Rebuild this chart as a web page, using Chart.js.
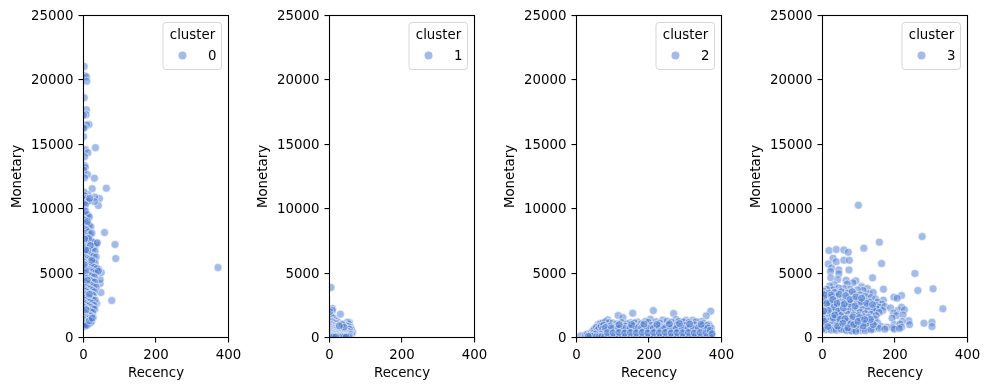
<!DOCTYPE html>
<html>
<head>
<meta charset="utf-8">
<script src="https://cdn.jsdelivr.net/npm/chart.js@4/dist/chart.umd.min.js"></script>
<style>
    body { margin: 0; background: #fff; }
    canvas { position: absolute; top: 0; }
</style>
</head>
<body>
<script>
const xTicks = [0, 200, 400];
const yTicks = [0, 5000, 10000, 15000, 20000, 25000];
const xLabel = 'Recency';
const yLabel = 'Monetary';
const legendTitle = 'cluster';
const clusters = [0, 1, 2, 3];

// [recency, monetary]
const cluster0 = [
    [2,21050],[3,20330],[8,20250],[9,19900],[2,18620],[8,17690],[7,17300],[0,17250],[15,16530],[8,16500],[3,16300],[0,16250],
    [0,15600],[33,14740],[5,14590],[12,14350],[3,14040],[3,13350],[5,13200],[1,13000],[11,12650],[3,12400],[30,12370],[24,11550],
    [63,11590],[44,10790],[31,10900],[41,10240],[30,10550],[12,11100],[58,8150],[87,7220],[89,6130],[371,5430],[78,2870],[48,3490],
    [46,4190],[46,4500],[49,5040],[42,5280],[36,7300],[34,7200],[36,2640],[1,11300],[4,11000],[7,10800],[2,10700],[9,10500],
    [14,10600],[17,10800],[0,10400],[5,10300],[1,9900],[3,9600],[8,9500],[12,9500],[16,9350],[0,9200],[4,9100],[6,8900],
    [11,8800],[15,8700],[20,8600],[2,8500],[7,8400],[9,8300],[13,8200],[1,8100],[18,8000],[23,8100],[4,7900],[0,7800],
    [10,7700],[16,7600],[21,7500],[26,7400],[3,7400],[7,7300],[12,7250],[30,7100],[38,7350],[1,7100],[5,7000],[9,6950],
    [14,6900],[19,6850],[25,6800],[32,6700],[0,6700],[4,6600],[8,6550],[13,6500],[17,6400],[22,6350],[28,6300],[35,6250],
    [2,6300],[6,6200],[11,6100],[16,6050],[20,5950],[26,5900],[32,5800],[0,5900],[4,5800],[9,5700],[14,5650],[18,5600],
    [24,5550],[29,5450],[37,5350],[1,5500],[6,5400],[11,5300],[16,5250],[21,5150],[27,5100],[33,5000],[41,5150],[3,5100],
    [8,5000],[13,4900],[18,4850],[23,4750],[30,4700],[0,4800],[5,4700],[10,4600],[15,4500],[20,4450],[26,4350],[31,4300],
    [2,4400],[7,4300],[12,4200],[17,4150],[22,4050],[28,3950],[35,3900],[0,4100],[4,4000],[9,3900],[14,3800],[19,3750],
    [24,3650],[30,3550],[3,3700],[8,3600],[13,3500],[18,3400],[23,3350],[27,3250],[1,3400],[5,3300],[10,3200],[15,3150],
    [20,3050],[25,2950],[32,2900],[0,3100],[4,3000],[8,2900],[13,2800],[18,2750],[24,2650],[29,2500],[2,2700],[6,2600],
    [11,2500],[16,2450],[21,2350],[26,2250],[31,2200],[0,2400],[4,2300],[9,2200],[14,2100],[19,2050],[25,1950],[2,2000],
    [7,1900],[12,1800],[17,1750],[22,1650],[27,1550],[1,1700],[5,1600],[10,1500],[15,1450],[20,1350],[0,1400],[4,1300],
    [8,1200],[13,1150],[18,1100],[22,1250],[2,1100],[6,1000],[1,850],[4,900],[10,950],[16,1300],[24,1500],[6,5200],
    [14,7700],[19,7150],[23,6000],[11,9000],[6,9800],[10,4450],[16,3350],[7,2150],[12,6750],[6,6800],[2,5650],[3,7650]
];
const cluster1 = [
    [4,3880],[30,1810],[8,2250],[8,2100],[55,1160],[64,420],[1,2000],[3,1750],[6,1600],[11,1500],[2,1400],[15,1350],
    [20,1250],[25,1150],[49,1180],[53,1050],[58,800],[60,620],[61,300],[57,500],[0,1300],[5,1250],[9,1200],[13,1150],
    [18,1100],[23,1050],[28,1000],[33,950],[38,1000],[43,950],[48,900],[52,850],[1,1050],[4,1000],[8,950],[12,900],
    [16,850],[21,820],[26,800],[31,780],[36,750],[41,720],[46,700],[51,680],[55,650],[0,850],[3,800],[7,760],[11,720],
    [15,700],[19,660],[24,640],[29,600],[34,580],[39,550],[44,520],[49,500],[54,450],[1,650],[5,620],[9,580],[13,540],
    [17,520],[22,480],[27,460],[32,430],[37,400],[42,380],[47,350],[52,300],[56,260],[0,500],[4,460],[8,420],[12,400],
    [16,370],[20,340],[25,320],[30,290],[35,260],[40,230],[45,200],[50,170],[55,120],[2,350],[6,310],[10,280],[14,250],
    [18,220],[23,190],[28,160],[33,130],[38,100],[43,90],[48,60],[53,50],[0,220],[4,180],[8,150],[12,120],[16,100],
    [21,80],[26,60],[31,40],[36,60],[41,30],[46,30],[3,70],[7,50],[11,40],[17,30],[35,1000],[40,800],[27,900]
];
const cluster2 = [
    [212,2090],[370,2040],[155,1890],[115,1710],[128,1550],[268,1860],[358,1680],[86,1370],[12,130],[204,1420],[365,1000],[345,1250],
    [320,1340],[302,1330],[275,1400],[238,1350],[190,1250],[168,1200],[150,1150],[60,1000],[66,1080],[72,1120],[80,1230],[90,1150],
    [100,1130],[110,1050],[125,1160],[140,1080],[160,1130],[178,1060],[198,1180],[220,1230],[230,1120],[250,1270],[262,1200],[282,1250],
    [295,1210],[310,1170],[330,1230],[350,1100],[368,850],[372,700],[362,620],[356,800],[25,200],[30,280],[36,240],[42,420],
    [46,520],[50,680],[55,800],[48,350],[58,550],[62,720],[68,880],[75,960],[84,850],[94,900],[104,780],[114,920],
    [122,800],[135,880],[146,780],[158,900],[170,820],[184,920],[194,800],[208,950],[218,840],[228,920],[242,820],[254,960],
    [266,850],[278,980],[288,860],[300,940],[314,850],[326,980],[338,860],[348,920],[360,950],[65,420],[72,650],[78,500],
    [86,620],[92,420],[98,600],[106,480],[112,650],[120,420],[128,600],[136,460],[144,620],[152,430],[160,610],[168,480],
    [176,630],[182,430],[190,600],[198,470],[206,640],[214,440],[222,600],[232,480],[240,630],[248,430],[256,600],[264,470],
    [272,640],[280,440],[290,610],[298,470],[306,630],[316,430],[324,600],[332,470],[340,630],[346,440],[354,600],[364,470],
    [370,380],[373,180],[366,90],[358,250],[350,140],[342,300],[334,120],[326,260],[318,150],[310,300],[302,110],[294,270],
    [286,140],[276,310],[268,120],[258,260],[250,150],[242,300],[234,110],[226,270],[218,140],[210,310],[202,120],[194,260],
    [186,150],[178,300],[170,110],[162,270],[154,140],[146,310],[138,120],[130,260],[122,150],[114,300],[106,110],[98,270],
    [90,140],[82,310],[74,120],[66,260],[58,150],[52,250],[44,110],[38,120],[32,90],[55,70],[63,60],[70,90],
    [78,70],[87,60],[95,80],[103,50],[111,70],[119,60],[127,90],[135,50],[143,70],[151,60],[159,80],[167,50],
    [175,70],[183,60],[191,90],[199,50],[207,70],[215,60],[223,80],[231,50],[239,70],[247,60],[255,90],[263,50],
    [271,70],[279,60],[287,80],[295,50],[303,70],[311,60],[319,90],[327,50],[335,70],[343,60],[351,80],[360,50],
    [368,70],[80,760],[96,740],[116,720],[132,700],[148,730],[164,710],[180,740],[196,700],[212,730],[228,710],[244,740],
    [260,700],[276,730],[292,710],[308,740],[322,700],[336,730],[352,710],[362,740],[85,380],[101,360],[117,390],[133,350],
    [149,380],[165,360],[181,390],[197,350],[213,380],[229,360],[245,390],[261,350],[277,380],[293,360],[309,390],[325,350],
    [341,380],[357,360],[369,560],[374,300],[344,1020],[312,1040],[284,1080],[256,1060],[222,1020],[186,1040],[152,1000],[118,1000]
];
const cluster3 = [
    [99,10270],[275,7840],[157,7400],[114,6930],[18,6750],[38,6830],[59,6800],[71,6620],[29,6150],[38,5880],[59,6000],[74,5990],
    [163,5740],[16,5710],[25,5400],[73,5250],[45,5250],[22,5120],[45,4950],[255,4970],[138,4630],[23,4630],[42,4500],[65,4450],
    [92,4400],[168,3750],[263,3650],[305,3780],[218,3260],[197,3130],[206,3050],[332,2230],[168,2900],[280,1110],[302,1190],[302,850],
    [238,1300],[240,1000],[84,4250],[68,4150],[32,4100],[20,4000],[108,3950],[124,3800],[128,3400],[140,3500],[112,3650],[96,3700],
    [76,3750],[58,3800],[44,3850],[28,3700],[12,3750],[3,3600],[0,3400],[8,3400],[18,3450],[34,3500],[52,3550],[70,3450],
    [88,3350],[104,3300],[118,3200],[134,3100],[146,3000],[152,2750],[164,2600],[2,3100],[14,3100],[26,3150],[40,3200],[56,3100],
    [72,3100],[86,3000],[100,2950],[116,2850],[130,2750],[148,2500],[158,2350],[172,2400],[188,2300],[208,2100],[218,2350],[226,2150],
    [0,2850],[10,2850],[22,2800],[36,2850],[48,2750],[62,2800],[78,2750],[94,2650],[108,2550],[122,2450],[138,2300],[150,2200],
    [166,2100],[196,1900],[4,2550],[16,2500],[30,2550],[42,2450],[54,2500],[68,2450],[82,2400],[98,2300],
    [112,2200],[126,2150],[142,2050],[156,1950],[204,1700],[222,1750],[0,2250],[12,2250],[24,2200],[38,2150],
    [50,2200],[64,2100],[76,2150],[90,2050],[104,1950],[118,1850],[134,1800],[148,1700],[192,1500],
    [6,1950],[18,1900],[32,1950],[44,1850],[58,1850],[72,1800],[86,1750],[100,1700],[114,1600],[128,1550],[144,1450],
    [220,1250],[2,1650],[14,1600],[26,1650],[38,1550],[52,1550],[66,1500],[80,1450],[94,1400],
    [108,1350],[122,1300],[136,1200],[152,1150],[198,1000],[214,1050],[8,1350],[20,1300],[34,1300],[46,1250],
    [60,1250],[74,1150],[88,1150],[102,1100],[116,1050],[130,950],[146,900],[162,850],[178,800],[194,750],[218,800],[0,1100],
    [12,1050],[26,1000],[40,1000],[54,950],[68,900],[82,850],[96,800],[110,750],[124,700],[140,650],[156,700],[172,650],
    [198,650],[212,700],[4,800],[18,750],[32,700],[46,750],[60,650],[74,600],[88,600],[104,550],[118,520],[134,600],
    [10,600],[24,580],[38,560],[52,620],[66,540],[80,500],[92,480],[6,3300],[24,3300],[46,3350],[64,3250],[82,3550],
    [6,2050],[20,2650],[32,2350],[44,2050],[58,2300],[74,2600],[90,2450],[106,2750],[122,2650],[138,2550],[30,1500],[50,1700],
    [70,1300],[84,1600],[102,1550],[120,1100],[140,1000],[12,2650],[28,2950],[40,2650],[60,2600],[76,2950],
    [92,3150],[108,3050],[16,2100],[34,1750],[48,1400],[62,1450],[78,1050],[94,950],[112,900],[132,1400],
    [0,1850],[0,1450],[0,650],[3,2050],[5,1250],[15,850],[42,880],[56,1100],[70,750],[86,1000],[98,1250],[116,1400]
];
const clusterPoints = [cluster0, cluster1, cluster2, cluster3];

const canvasLefts = [10, 256, 503, 749];
const plotWidth = 145;
const leftWidth = 73.5;
const rightPad = 20;
const fontFamily = 'DejaVu Sans';
const fontSize = 13.33;

// frame on all four sides, above the points like the spines
const framePlugin = {
    id: 'frame',
    afterDatasetsDraw(chart) {
        const { ctx, chartArea: a } = chart;
        ctx.save();
        ctx.strokeStyle = '#000';
        ctx.lineWidth = 1.1;
        ctx.strokeRect(a.left, a.top, a.right - a.left, a.bottom - a.top);
        ctx.restore();
    }
};

// y tick labels sit 1px lower in the reference
const yLabelShiftPlugin = {
    id: 'yLabelShift',
    beforeDraw(chart) {
        chart.scales.y.getLabelItems(chart.chartArea).forEach(item => {
            item.options.translation[1] += 1;
        });
    }
};

// legend sits inside the axes, top right
const legendBoxPlugin = {
    id: 'legendBox',
    afterDraw(chart, args, opts) {
        const { ctx, chartArea: a } = chart;
        const right = a.right - 7;
        const left = right - 58.5;
        const top = a.top + 7;
        ctx.save();
        ctx.beginPath();
        ctx.roundRect(left, top, 58.5, 47, 3);
        ctx.fillStyle = 'rgba(255,255,255,0.8)';
        ctx.fill();
        ctx.strokeStyle = 'rgba(204,204,204,0.8)';
        ctx.lineWidth = 1;
        ctx.stroke();
        ctx.fillStyle = '#000';
        ctx.font = fontSize + 'px "' + fontFamily + '"';
        ctx.textBaseline = 'middle';
        ctx.textAlign = 'center';
        ctx.fillText(legendTitle, left + 29.5, top + 13);
        ctx.textAlign = 'right';
        ctx.fillText(String(opts.label), right - 5, top + 34);
        ctx.beginPath();
        ctx.arc(left + 19.5, top + 33, 4, 0, Math.PI * 2);
        ctx.fillStyle = 'rgba(72,120,208,0.5)';
        ctx.fill();
        ctx.restore();
    }
};

clusters.forEach((cluster, i) => {
    const canvas = document.createElement('canvas');
    canvas.width = Math.ceil(leftWidth + plotWidth + rightPad);
    canvas.height = 390;
    canvas.style.left = canvasLefts[i] + 'px';
    document.body.appendChild(canvas);

    new Chart(canvas.getContext('2d'), {
        type: 'scatter',
        data: {
            datasets: [{
                label: String(cluster),
                data: clusterPoints[i].map(p => ({ x: p[0], y: p[1] })),
                backgroundColor: 'rgba(72,120,208,0.5)',
                borderColor: 'rgba(255,255,255,0.55)',
                borderWidth: 1,
                pointRadius: 4,
                pointHoverRadius: 4,
                clip: 0
            }]
        },
        options: {
            responsive: false,
            animation: false,
            layout: { padding: { top: 15.5, right: canvas.width - leftWidth - plotWidth, left: 0, bottom: 8 } },
            plugins: {
                legend: { display: false },
                tooltip: { enabled: false },
                legendBox: { label: cluster }
            },
            scales: {
                x: {
                    type: 'linear',
                    min: 0,
                    max: 400,
                    afterBuildTicks: axis => { axis.ticks = xTicks.map(v => ({ value: v })); },
                    afterFit: axis => { axis.height = 44.5; },
                    grid: { drawOnChartArea: false, tickLength: 5, color: '#000', lineWidth: 1.1 },
                    border: { display: false },
                    ticks: { color: '#000', padding: 5, maxRotation: 0, autoSkip: false, font: { family: fontFamily, size: fontSize } },
                    title: { display: true, text: xLabel, color: '#000', padding: { top: 2, bottom: 0 }, font: { family: fontFamily, size: fontSize } }
                },
                y: {
                    type: 'linear',
                    min: 0,
                    max: 25000,
                    afterBuildTicks: axis => { axis.ticks = yTicks.map(v => ({ value: v })); },
                    afterFit: axis => { axis.width = leftWidth; },
                    grid: { drawOnChartArea: false, tickLength: 5, color: '#000', lineWidth: 1.1 },
                    border: { display: false },
                    ticks: { color: '#000', padding: 5, autoSkip: false, callback: v => String(v), font: { family: fontFamily, size: fontSize } },
                    title: { display: true, text: yLabel, color: '#000', padding: { top: 0, bottom: 2 }, font: { family: fontFamily, size: fontSize } }
                }
            }
        },
        plugins: [framePlugin, yLabelShiftPlugin, legendBoxPlugin]
    });
});
</script>
</body>
</html>
